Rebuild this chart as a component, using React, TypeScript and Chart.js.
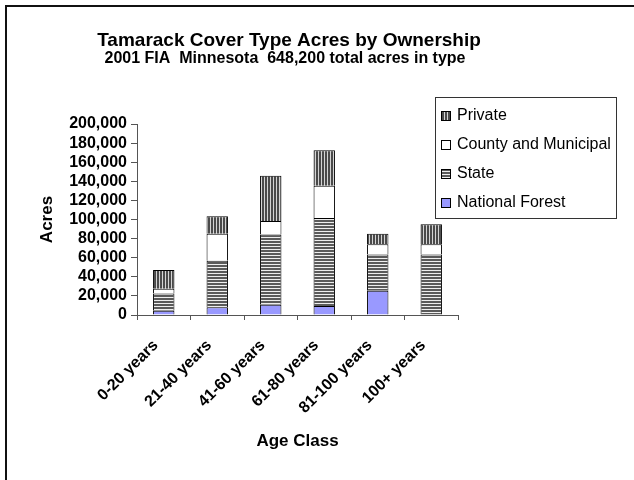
import React, { useEffect, useRef } from 'react';
import { Chart, registerables } from 'chart.js';

Chart.register(...registerables);

const categories = ['0-20 years', '21-40 years', '41-60 years', '61-80 years', '81-100 years', '100+ years'];
const nationalForest = [4500, 8000, 10800, 9400, 25400, 0];
const stateLand = [18000, 48700, 73400, 92200, 37900, 63300];
const countyMunicipal = [5000, 28500, 14200, 33700, 10800, 10800];
const privateLand = [19500, 18100, 47300, 37200, 11100, 20900];
const seriesLabels = ['National Forest', 'State', 'County and Municipal', 'Private'];
const titleText = 'Tamarack Cover Type Acres by Ownership';
const subtitleText = '2001 FIA  Minnesota  648,200 total acres in type';
const yTitleText = 'Acres';
const xTitleText = 'Age Class';
const yMax = 200000;
const yStep = 20000;

const FONT = '"Liberation Sans", Arial, sans-serif';

function stripes(vertical: boolean, light: string, dark: string): CanvasPattern | string {
  const c = document.createElement('canvas');
  c.width = 3;
  c.height = 3;
  const g = c.getContext('2d');
  if (!g) return dark;
  g.fillStyle = dark;
  g.fillRect(0, 0, 3, 3);
  g.fillStyle = light;
  if (vertical) g.fillRect(0, 0, 1, 3);
  else g.fillRect(0, 0, 3, 1);
  return g.createPattern(c, 'repeat') || dark;
}

const decor = {
  id: 'decor',
  beforeDraw(chart: any) {
    const ctx = chart.ctx;
    ctx.save();
    ctx.fillStyle = '#ffffff';
    ctx.fillRect(0, 0, chart.width, chart.height);
    ctx.restore();
  },
  afterDraw(chart: any) {
    const ctx = chart.ctx;
    ctx.save();
    // outer frame
    ctx.strokeStyle = '#111';
    ctx.lineWidth = 2;
    ctx.strokeRect(6, 6, chart.width + 40, chart.height + 40);
    // titles
    ctx.fillStyle = '#000';
    ctx.textAlign = 'center';
    ctx.textBaseline = 'middle';
    ctx.font = `bold 19px ${FONT}`;
    ctx.fillText(titleText, 289, 41);
    ctx.font = `bold 16px ${FONT}`;
    ctx.fillText(subtitleText, 285, 59);
    // legend
    const lx = 435.5, ly = 97.5, lw = 181, lh = 121;
    ctx.fillStyle = '#fff';
    ctx.fillRect(lx, ly, lw, lh);
    ctx.strokeStyle = '#333';
    ctx.lineWidth = 1;
    ctx.strokeRect(lx, ly, lw, lh);
    const ds = chart.data.datasets.slice().reverse();
    ctx.textAlign = 'left';
    ctx.font = `16px ${FONT}`;
    ds.forEach((d: any, i: number) => {
      const cy = 116 + i * 29;
      ctx.fillStyle = d.backgroundColor;
      ctx.fillRect(441.5, cy - 4.5, 9, 9);
      ctx.strokeStyle = '#000';
      ctx.strokeRect(441.5, cy - 4.5, 9, 9);
      ctx.fillStyle = '#000';
      ctx.fillText(d.label, 457, cy);
    });
    ctx.restore();
  },
};

export default function App() {
  const ref = useRef<HTMLCanvasElement>(null);
  useEffect(() => {
    if (!ref.current) return;
    const privPat = stripes(true, '#d4d4d4', '#4a4a4a');
    const statePat = stripes(false, '#eeeeee', '#5a5a5a');
    const common = { borderColor: '#000', borderWidth: 1, barPercentage: 0.4, categoryPercentage: 1.0 };
    const yTickFont = { family: FONT, size: 16, weight: 'bold' as const };
    const xTickFont = { family: FONT, size: 16, weight: 'bold' as const };
    const titleFont = { family: FONT, size: 17, weight: 'bold' as const };
    const chart = new Chart(ref.current, {
      type: 'bar',
      data: {
        labels: categories,
        datasets: [
          { label: seriesLabels[0], data: nationalForest, backgroundColor: '#9999ff', ...common },
          { label: seriesLabels[1], data: stateLand, backgroundColor: statePat as any, ...common },
          { label: seriesLabels[2], data: countyMunicipal, backgroundColor: '#ffffff', ...common },
          { label: seriesLabels[3], data: privateLand, backgroundColor: privPat as any, ...common },
        ],
      },
      options: {
        responsive: false,
        animation: false,
        layout: { padding: { left: 0, right: 176, top: 124, bottom: 0 } },
        plugins: {
          legend: { display: false },
          title: { display: false },
          tooltip: { enabled: false },
        },
        scales: {
          x: {
            stacked: true,
            grid: { display: true, drawOnChartArea: false, drawTicks: true, tickLength: 5, color: '#555', offset: true },
            border: { color: '#555', width: 1 },
            ticks: { minRotation: 45, maxRotation: 45, autoSkip: false, font: xTickFont, color: '#000', padding: 16, labelOffset: -8 },
            title: { display: true, text: xTitleText, font: titleFont, color: '#000', padding: { top: 0, bottom: 28 } },
            afterFit: (s: any) => { s.height = 165; },
          },
          y: {
            stacked: true,
            min: 0,
            max: yMax,
            ticks: {
              stepSize: yStep,
              autoSkip: false,
              callback: (v: any) => Number(v).toLocaleString('en-US'),
              font: yTickFont,
              color: '#000',
              padding: 4,
            },
            grid: { display: true, drawOnChartArea: false, drawTicks: true, tickLength: 6, color: '#555' },
            border: { color: '#555', width: 1 },
            title: { display: true, text: yTitleText, font: titleFont, color: '#000', padding: { top: 37, bottom: 0 } },
            afterFit: (s: any) => { s.width = 137; },
          },
        },
      },
      plugins: [decor],
    });
    return () => chart.destroy();
  }, []);
  return (
    <div style={{ position: 'fixed', left: 0, top: 0, width: 634, height: 480, background: '#fff' }}>
      <canvas ref={ref} width={634} height={480} style={{ display: 'block', width: 634, height: 480 }} />
    </div>
  );
}
